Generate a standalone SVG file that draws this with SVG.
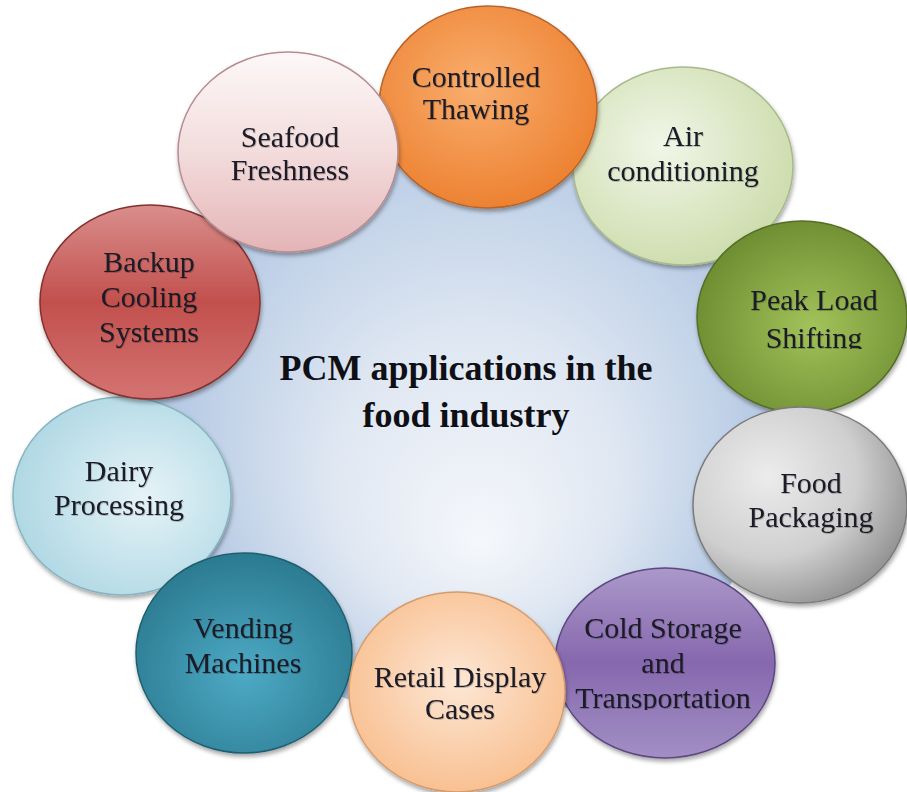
<svg xmlns="http://www.w3.org/2000/svg" width="907" height="792" viewBox="0 0 907 792">
  <defs>
    <style>
      .lbl { font-family: 'Liberation Serif', 'Times New Roman', Times, serif; font-size: 30px; fill: #1a1a26; text-anchor: middle; filter: url(#txtShadow); }
      .title { font-family: 'Liberation Serif', 'Times New Roman', Times, serif; font-size: 36px; font-weight: bold; fill: #0f0f16; text-anchor: middle; }
      .bubble { stroke-width: 1.5; filter: url(#bubbleShadow); }
    </style>
    <filter id="bubbleShadow" x="-10%" y="-10%" width="120%" height="125%">
      <feDropShadow dx="1" dy="3" stdDeviation="2" flood-color="#000" flood-opacity="0.35"/>
    </filter>
    <filter id="txtShadow" x="-5%" y="-20%" width="110%" height="140%">
      <feDropShadow dx="0.8" dy="1" stdDeviation="0.6" flood-color="#000" flood-opacity="0.22"/>
    </filter>

    <!-- hub: bluer toward the top, pale toward the lower middle -->
    <radialGradient id="gHub" cx="0.5" cy="0.5" r="0.5" fx="0.52" fy="0.72">
      <stop offset="0" stop-color="#f5f7fb"/>
      <stop offset="0.45" stop-color="#dfe7f2"/>
      <stop offset="1" stop-color="#afc5e2"/>
    </radialGradient>

    <radialGradient id="gThaw" cx="0.45" cy="0.4" r="0.6">
      <stop offset="0" stop-color="#f9ae6e"/>
      <stop offset="1" stop-color="#ed8232"/>
    </radialGradient>
    <radialGradient id="gAir" cx="0.4" cy="0.4" r="0.6">
      <stop offset="0" stop-color="#f1f6e8"/>
      <stop offset="1" stop-color="#cfdeb0"/>
    </radialGradient>
    <radialGradient id="gPeak" cx="0.55" cy="0.55" r="0.6">
      <stop offset="0" stop-color="#a2c25a"/>
      <stop offset="1" stop-color="#6c8b30"/>
    </radialGradient>
    <radialGradient id="gPack" cx="0.35" cy="0.35" r="0.7">
      <stop offset="0" stop-color="#ececec"/>
      <stop offset="0.6" stop-color="#cfcfcf"/>
      <stop offset="1" stop-color="#959595"/>
    </radialGradient>
    <linearGradient id="gCold" x1="0" y1="0" x2="0" y2="1">
      <stop offset="0" stop-color="#ab98c9"/>
      <stop offset="0.5" stop-color="#8668ae"/>
      <stop offset="1" stop-color="#a28fc4"/>
    </linearGradient>
    <radialGradient id="gRetail" cx="0.5" cy="0.45" r="0.6">
      <stop offset="0" stop-color="#fde7d5"/>
      <stop offset="1" stop-color="#f8bd8c"/>
    </radialGradient>
    <radialGradient id="gVend" cx="0.5" cy="0.6" r="0.6">
      <stop offset="0" stop-color="#4daac5"/>
      <stop offset="1" stop-color="#2b7a90"/>
    </radialGradient>
    <radialGradient id="gDairy" cx="0.6" cy="0.5" r="0.6">
      <stop offset="0" stop-color="#e6f3f7"/>
      <stop offset="1" stop-color="#afd8e4"/>
    </radialGradient>
    <linearGradient id="gBackup" x1="0" y1="0" x2="0" y2="1">
      <stop offset="0" stop-color="#d98e8c"/>
      <stop offset="0.5" stop-color="#c2504d"/>
      <stop offset="1" stop-color="#d37371"/>
    </linearGradient>
    <linearGradient id="gSea" x1="0" y1="0" x2="0" y2="1">
      <stop offset="0" stop-color="#fdf8f8"/>
      <stop offset="0.5" stop-color="#f3dcdc"/>
      <stop offset="1" stop-color="#e4b4b6"/>
    </linearGradient>

    <clipPath id="clipShift"><rect x="700" y="220" width="207" height="129"/></clipPath>
    <clipPath id="clipTrans"><rect x="555" y="560" width="225" height="150"/></clipPath>
  </defs>

  <rect width="907" height="792" fill="#ffffff"/>

  <!-- central hub -->
  <g id="hub">
    <circle cx="468" cy="405" r="318" fill="url(#gHub)"/>
    <text class="title" x="466" y="380">PCM applications in the</text>
    <text class="title" x="466" y="427">food industry</text>
  </g>

  <!-- no connector lines in this layout -->
  <g id="connectors"/>

  <g id="air-conditioning">
    <ellipse class="bubble" cx="683" cy="166" rx="110" ry="99" fill="url(#gAir)" stroke="#a8b98a"/>
    <text class="lbl" x="683" y="146">Air</text>
    <text class="lbl" x="683" y="181">conditioning</text>
  </g>

  <g id="controlled-thawing">
    <ellipse class="bubble" cx="488" cy="107" rx="109" ry="101" fill="url(#gThaw)" stroke="#b8642a"/>
    <text class="lbl" x="476" y="87">Controlled</text>
    <text class="lbl" x="476" y="119">Thawing</text>
  </g>

  <g id="peak-load-shifting">
    <ellipse class="bubble" cx="802" cy="317" rx="105" ry="96" fill="url(#gPeak)" stroke="#556f25"/>
    <text class="lbl" x="814" y="310">Peak Load</text>
    <text class="lbl" x="814" y="348" clip-path="url(#clipShift)">Shifting</text>
  </g>

  <g id="food-packaging">
    <ellipse class="bubble" cx="800" cy="505" rx="107" ry="98" fill="url(#gPack)" stroke="#7a7a7a"/>
    <text class="lbl" x="811" y="493">Food</text>
    <text class="lbl" x="811" y="527">Packaging</text>
  </g>

  <g id="cold-storage">
    <ellipse class="bubble" cx="665" cy="663" rx="110" ry="95" fill="url(#gCold)" stroke="#5c4780"/>
    <text class="lbl" x="663" y="638">Cold Storage</text>
    <text class="lbl" x="663" y="673">and</text>
    <text class="lbl" x="663" y="708" clip-path="url(#clipTrans)">Transportation</text>
  </g>

  <g id="dairy-processing">
    <ellipse class="bubble" cx="122" cy="496" rx="109" ry="99" fill="url(#gDairy)" stroke="#87b3c0"/>
    <text class="lbl" x="119" y="481">Dairy</text>
    <text class="lbl" x="119" y="515">Processing</text>
  </g>

  <g id="vending-machines">
    <ellipse class="bubble" cx="244" cy="653" rx="108" ry="100" fill="url(#gVend)" stroke="#1f5f70"/>
    <text class="lbl" x="243" y="638">Vending</text>
    <text class="lbl" x="243" y="673">Machines</text>
  </g>

  <g id="retail-display-cases">
    <ellipse class="bubble" cx="457" cy="692" rx="108" ry="100" fill="url(#gRetail)" stroke="#d69c6c"/>
    <text class="lbl" x="460" y="687">Retail Display</text>
    <text class="lbl" x="460" y="719">Cases</text>
  </g>

  <g id="backup-cooling-systems">
    <ellipse class="bubble" cx="150" cy="302" rx="110" ry="97" fill="url(#gBackup)" stroke="#85302e"/>
    <text class="lbl" x="149" y="272">Backup</text>
    <text class="lbl" x="149" y="307">Cooling</text>
    <text class="lbl" x="149" y="342">Systems</text>
  </g>

  <g id="seafood-freshness">
    <ellipse class="bubble" cx="288" cy="152" rx="110" ry="100" fill="url(#gSea)" stroke="#b78c93"/>
    <text class="lbl" x="290" y="147">Seafood</text>
    <text class="lbl" x="290" y="180">Freshness</text>
  </g>
</svg>
